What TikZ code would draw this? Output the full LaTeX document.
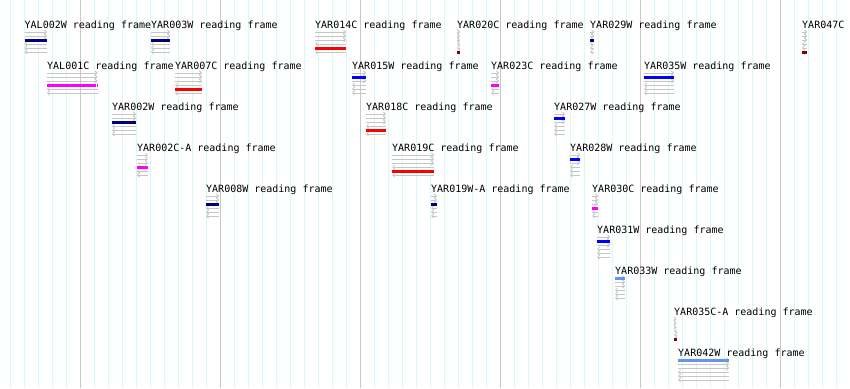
\documentclass[tikz,border=0pt]{standalone}
\usepackage{fontspec}
\setmonofont{DejaVu Sans Mono}
\usetikzlibrary{
    arrows.meta,
    positioning
}
\definecolor{orfnavy}{RGB}{0,0,128}
\definecolor{orfblue}{RGB}{0,0,255}
\definecolor{orfcorn}{RGB}{100,149,237}
\definecolor{orfred}{RGB}{255,0,0}
\definecolor{orfmagenta}{RGB}{255,0,255}
\definecolor{orfdarkred}{RGB}{139,0,0}
\definecolor{gridcyan}{RGB}{218,248,248}
\definecolor{gridgray}{RGB}{200,200,200}
\tikzset{
    every picture/.style = {
        x = 1pt,
        y = -1pt
    },
    grid minor/.style = {draw = gridcyan, line width = 1pt},
    grid major/.style = {draw = gridgray, line width = 1pt},
    frame line/.style = {draw = gray!45, line width = 0.8pt},
    fwd/.style = {frame line, -{Straight Barb[length = 2pt, width = 4pt]}},
    rev/.style = {frame line, {Straight Barb[length = 2pt, width = 4pt]}-},
    orf bar/.style = {line width = 3pt},
    orf label/.style = {
        anchor = base west,
        inner sep = 0pt,
        font = \ttfamily\fontsize{10}{12}\selectfont
    }
}

\begin{document}
\begin{tikzpicture}
    \useasboundingbox (0,0) rectangle (850,388);
    \clip (0,0) rectangle (850,388);
    \fill[white] (0,0) rectangle (850,388);

    % grid
    \foreach \i in {0,...,59}
        \draw[grid minor] ({10.7+14*\i}, 0) -- ++(0, 388);
    \foreach \i in {0,...,5}
        \draw[grid major] ({80.7+140*\i}, 0) -- ++(0, 388);

    % name / start / track / width / frame row / colour
    \foreach \name/\x/\k/\w/\f/\col in {
        YAL002W/24.5/1/22.5/3/orfnavy,
        YAR003W/151/1/19/3/orfnavy,
        YAR014C/315/1/31/5/orfred,
        YAR020C/457/1/3/6/orfdarkred,
        YAR029W/590/1/4/3/orfnavy,
        YAR047C/802/1/5/6/orfdarkred,
        YAL001C/47/2/50.5/4/orfmagenta,
        YAR007C/175/2/27/5/orfred,
        YAR015W/352/2/14/2/orfblue,
        YAR023C/491/2/8/4/orfmagenta,
        YAR035W/644/2/30/2/orfblue,
        YAR002W/112/3/24/3/orfnavy,
        YAR018C/366/3/20/5/orfred,
        YAR027W/554/3/11/2/orfblue,
        YAR002C-A/137/4/11/4/orfmagenta,
        YAR019C/392/4/42/5/orfred,
        YAR028W/570/4/10/2/orfblue,
        YAR008W/206/5/13/3/orfnavy,
        YAR019W-A/431/5/6/3/orfnavy,
        YAR030C/592/5/6/4/orfmagenta,
        YAR031W/597/6/13/2/orfblue,
        YAR033W/615/7/10/1/orfcorn,
        YAR035C-A/674/8/2.5/6/orfdarkred,
        YAR042W/678/9/51/1/orfcorn}{
        \pgfmathsetmacro\ytop{32+41*(\k-1)}
        \node[orf label] (\name) at (\x, \ytop-4) {\name\ reading frame};
        \foreach \r in {0,1,2}
            \draw[fwd] (\x, \ytop+4*\r) -- ++(\w, 0);
        \foreach \r in {3,4,5}
            \draw[rev] (\x, \ytop+4*\r) -- ++(\w, 0);
        \draw[orf bar, \col] (\x, \ytop+4*\f-4) -- ++(\w, 0);
    }

    % intron gap
    \fill[white] (95.9, 83.5) rectangle ++(0.8, 3);
\end{tikzpicture}
\end{document}
